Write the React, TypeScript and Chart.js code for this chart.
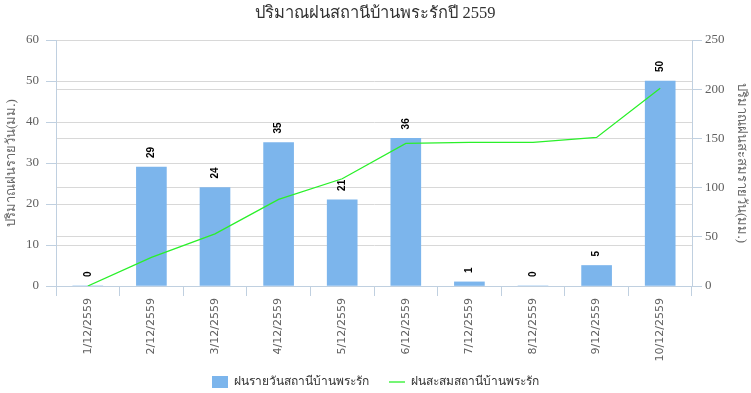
import React, { useEffect, useRef } from 'react';
import { Chart, registerables } from 'chart.js';

Chart.register(...registerables);

const chartTitle = 'ปริมาณฝนสถานีบ้านพระรักปี 2559';
const categories = ['1/12/2559', '2/12/2559', '3/12/2559', '4/12/2559', '5/12/2559', '6/12/2559', '7/12/2559', '8/12/2559', '9/12/2559', '10/12/2559'];
const dailyRain = [0, 29, 24, 35, 21, 36, 1, 0, 5, 50];
const cumulativeRain = [0, 29, 53, 88, 109, 145, 146, 146, 151, 201];
const dailyLabel = 'ฝนรายวันสถานีบ้านพระรัก';
const cumulativeLabel = 'ฝนสะสมสถานีบ้านพระรัก';
const leftAxisTitle = 'ปริมาณฝนรายวัน(มม.)';
const rightAxisTitle = 'ปริมาณฝนสะสมรายวัน(มม.)';

const AXIS = '#C0D0E0';
const GRID = '#D8D8D8';
const SERIF = '"Liberation Serif", "Times New Roman", serif';
const SANS = '"DejaVu Sans", Tahoma, sans-serif';

const barLabels = {
  id: 'barLabels',
  afterDatasetsDraw(chart: any) {
    const meta = chart.getDatasetMeta(0);
    const ctx = chart.ctx;
    ctx.save();
    ctx.font = 'bold 10px "Liberation Sans", Arial, sans-serif';
    ctx.fillStyle = '#000000';
    ctx.textAlign = 'left';
    ctx.textBaseline = 'middle';
    meta.data.forEach((bar: any, i: number) => {
      const { x, y } = bar.getProps(['x', 'y'], true);
      ctx.save();
      ctx.translate(x, y - 9);
      ctx.rotate(-Math.PI / 2);
      ctx.fillText(String(dailyRain[i]), 0, 0);
      ctx.restore();
    });
    ctx.restore();
  },
};

// let the rotated category labels extend below the fixed-height x scale box
const unclipX = {
  id: 'unclipX',
  afterLayout(chart: any) {
    if (chart.scales.x) chart.scales.x.bottom = chart.height;
  },
};

export default function App() {
  const ref = useRef<HTMLCanvasElement | null>(null);

  useEffect(() => {
    if (!ref.current) return;
    const chart = new Chart(ref.current, {
      type: 'bar',
      data: {
        labels: categories,
        datasets: [
          {
            type: 'bar',
            label: dailyLabel,
            data: dailyRain,
            backgroundColor: '#7CB5EC',
            borderWidth: 0,
            barThickness: 30,
            yAxisID: 'y',
            order: 2,
            pointStyle: 'rect',
          } as any,
          {
            type: 'line',
            label: cumulativeLabel,
            data: cumulativeRain,
            borderColor: '#2AF02A',
            backgroundColor: '#2AF02A',
            borderWidth: 1.3,
            pointRadius: 0,
            tension: 0,
            yAxisID: 'y2',
            order: 1,
            pointStyle: 'line',
          } as any,
        ],
      },
      options: {
        responsive: false,
        animation: false,
        devicePixelRatio: 1,
        layout: { padding: { left: 0, right: 0, top: 0, bottom: -5 } },
        plugins: {
          title: {
            display: true,
            text: chartTitle,
            color: '#333333',
            font: { family: SERIF, size: 16.5, weight: 'normal' },
            padding: { top: 4, bottom: 16.2 },
          },
          legend: {
            position: 'bottom',
            labels: {
              usePointStyle: true,
              pointStyleWidth: 16,
              padding: 20,
              color: '#333333',
              font: { family: SANS, size: 12 },
              sort: (a: any, b: any) => a.datasetIndex - b.datasetIndex,
            },
          },
          tooltip: { enabled: false },
        },
        scales: {
          x: {
            offset: true,
            grid: { display: true, drawOnChartArea: false, drawTicks: true, tickLength: 10, tickColor: AXIS, offset: true },
            border: { color: AXIS },
            ticks: { color: '#606060', font: { family: SANS, size: 11 }, minRotation: 90, maxRotation: 90, padding: 2 },
            afterFit: (s: any) => { s.height = 70; },
          },
          y: {
            position: 'left',
            min: 0,
            max: 60,
            ticks: { stepSize: 10, color: '#606060', font: { family: SERIF, size: 13 }, padding: 7 },
            grid: { color: GRID, tickColor: AXIS, tickLength: 10 },
            border: { color: AXIS },
            title: { display: true, text: leftAxisTitle, color: '#666666', font: { family: SERIF, size: 13 }, padding: { top: 4, bottom: 0 } },
            afterFit: (s: any) => { s.width = 56; },
          },
          y2: {
            position: 'right',
            min: 0,
            max: 250,
            ticks: { stepSize: 50, color: '#606060', font: { family: SERIF, size: 13 }, padding: 3 },
            grid: { color: GRID, tickColor: AXIS, tickLength: 10 },
            border: { color: AXIS },
            title: { display: true, text: rightAxisTitle, color: '#666666', font: { family: SERIF, size: 13 }, padding: { top: 2, bottom: 0 } },
            afterFit: (s: any) => { s.width = 59; },
          },
        },
      },
      plugins: [barLabels, unclipX],
    } as any);
    return () => chart.destroy();
  }, []);

  return (
    <div style={{ position: 'absolute', left: 0, top: 0, width: 751, height: 393, background: '#ffffff' }}>
      <canvas ref={ref} width={751} height={393} style={{ display: 'block' }} />
    </div>
  );
}
